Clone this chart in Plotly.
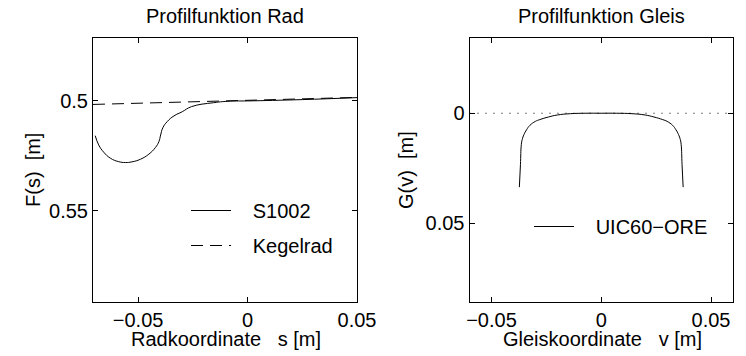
import plotly.graph_objects as go

# ---- data ----
s_S1002 = [-0.0696, -0.0680, -0.0657, -0.0627, -0.0589, -0.0558, -0.0528, -0.0489,
           -0.0451, -0.0421, -0.0405, -0.0397, -0.0387, -0.0367, -0.0336, -0.0298,
           -0.0256, -0.0155, -0.0078, 0.0, 0.025, 0.05]
F_S1002 = [0.5158, 0.5200, 0.5233, 0.5260, 0.5276, 0.5280, 0.5277, 0.5265,
           0.5242, 0.5212, 0.5185, 0.5155, 0.5122, 0.5094, 0.5068, 0.5049,
           0.5026, 0.5008, 0.5001, 0.5000, 0.4994, 0.4985]

s_Kegel = [-0.0706, 0.05]
F_Kegel = [0.5016, 0.4984]

v_UIC = [-0.0373, -0.0368, -0.0364, -0.0360, -0.0352, -0.0340, -0.0325, -0.0300, -0.0280,
         -0.0240, -0.0200, -0.0140, -0.0070, 0.0,
         0.0070, 0.0140, 0.0200, 0.0240,
         0.0280, 0.0300, 0.0325, 0.0340, 0.0352, 0.0360, 0.0364, 0.0368, 0.0373]
G_UIC = [0.0336, 0.0234, 0.0143, 0.0120, 0.0097, 0.0075, 0.0055, 0.0037, 0.0029,
         0.0017, 0.0008, 0.0002, 0.0000, 0.0,
         0.0000, 0.0002, 0.0008, 0.0017,
         0.0029, 0.0037, 0.0055, 0.0075, 0.0097, 0.0120, 0.0143, 0.0234, 0.0336]

v_ref = [-0.06, 0.06]
G_ref = [0.0, 0.0]

left_xrange = [-0.0706, 0.05]
left_yrange = [0.5914, 0.4714]
right_xrange = [-0.06, 0.06]
right_yrange = [0.0858, -0.0342]

left_xticks = [-0.05, 0, 0.05]
left_xticklabels = ["\u22120.05", "0", "0.05"]
left_yticks = [0.5, 0.55]
left_yticklabels = ["0.5", "0.55"]
right_xticks = [-0.05, 0, 0.05]
right_xticklabels = ["\u22120.05", "0", "0.05"]
right_yticks = [0, 0.05]
right_yticklabels = ["0", "0.05"]

FONT = "Arial, Liberation Sans, Helvetica, sans-serif"
FS = 20
W, H = 746, 356
NB = "\u00a0"

fig = go.Figure()
fig.add_trace(go.Scatter(x=s_S1002, y=F_S1002, mode="lines", name=NB * 3 + "S1002",
                         line=dict(color="black", width=1, shape="spline", smoothing=1.3),
                         xaxis="x", yaxis="y", legend="legend", legendgroup="a"))
fig.add_trace(go.Scatter(x=s_Kegel, y=F_Kegel, mode="lines", name=NB * 3 + "Kegelrad",
                         line=dict(color="black", width=1, dash="12px,7px"),
                         xaxis="x", yaxis="y", legend="legend", legendgroup="b"))
fig.add_trace(go.Scatter(x=v_ref, y=G_ref, mode="lines", showlegend=False,
                         line=dict(color="black", width=1, dash="1px,7px"),
                         xaxis="x2", yaxis="y2"))
fig.add_trace(go.Scatter(x=v_UIC, y=G_UIC, mode="lines", name=NB * 3 + "UIC60\u2212ORE",
                         line=dict(color="black", width=1, shape="spline", smoothing=1.3),
                         xaxis="x2", yaxis="y2", legend="legend2"))

def px_x(p):
    return p / W

def px_y(p):
    return 1 - p / H

axis_common = dict(showline=True, linecolor="black", linewidth=1, mirror="ticks",
                   ticks="inside", ticklen=5, tickcolor="black", tickwidth=1,
                   showgrid=False, zeroline=False, automargin=False,
                   tickfont=dict(family=FONT, size=FS, color="black"))

fig.update_layout(
    width=W, height=H,
    margin=dict(l=0, r=0, t=0, b=0, pad=0),
    paper_bgcolor="white", plot_bgcolor="white",
    font=dict(family=FONT, size=FS, color="black"),
    xaxis=dict(domain=[px_x(93), px_x(357)], range=left_xrange, anchor="y",
               tickvals=left_xticks, ticktext=left_xticklabels, **axis_common),
    yaxis=dict(domain=[px_y(302), px_y(38)], range=left_yrange, anchor="x",
               tickvals=left_yticks, ticktext=left_yticklabels, **axis_common),
    xaxis2=dict(domain=[px_x(469.5), px_x(733)], range=right_xrange, anchor="y2",
                tickvals=right_xticks, ticktext=right_xticklabels, **axis_common),
    yaxis2=dict(domain=[px_y(302), px_y(38)], range=right_yrange, anchor="x2",
                tickvals=right_yticks, ticktext=right_yticklabels, **axis_common),
    legend=dict(x=px_x(186), y=px_y(191), xanchor="left", yanchor="top",
                bgcolor="rgba(0,0,0,0)", borderwidth=0,
                font=dict(family=FONT, size=FS, color="black"),
                traceorder="grouped", tracegroupgap=6, itemwidth=40),
    legend2=dict(x=px_x(529), y=px_y(207), xanchor="left", yanchor="top",
                 bgcolor="rgba(0,0,0,0)", borderwidth=0,
                 font=dict(family=FONT, size=FS, color="black"), itemwidth=40),
    showlegend=True,
)

annots = [
    ("Profilfunktion Rad", 225, 16, 0),
    ("Profilfunktion Gleis", 601.3, 16, 0),
    ("Radkoordinate   s [m]", 226, 339, 0),
    ("Gleiskoordinate   v [m]", 602, 339, 0),
    ("F(s)  [m]", 33, 170, -90),
    ("G(v)  [m]", 406, 170, -90),
]
for txt, x, y, ang in annots:
    fig.add_annotation(text=txt.replace(" ", NB),
                       x=px_x(x), y=px_y(y), xref="paper", yref="paper",
                       xanchor="center", yanchor="middle", showarrow=False, textangle=ang,
                       font=dict(family=FONT, size=FS, color="black"))

fig.write_html("out.html")
